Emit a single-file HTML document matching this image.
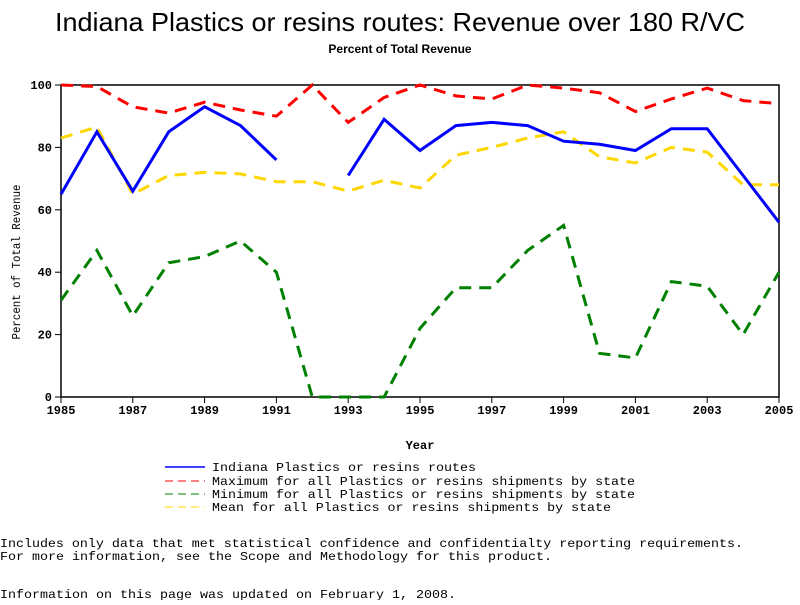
<!DOCTYPE html>
<html><head><meta charset="utf-8"><style>
body{margin:0;background:#fff;width:800px;height:600px;overflow:hidden}
text{font-family:"Liberation Mono",monospace;}
</style></head><body>
<svg id="c" width="800" height="600">
<text x="400" y="31" text-anchor="middle" font-size="26" textLength="690" lengthAdjust="spacingAndGlyphs" style="font-family:'Liberation Sans',sans-serif">Indiana Plastics or resins routes: Revenue over 180 R/VC</text>
<text x="400" y="53" text-anchor="middle" font-size="12" font-weight="bold" style="font-family:'Liberation Sans',sans-serif">Percent of Total Revenue</text>
<text transform="translate(20,262) rotate(-90)" text-anchor="middle" font-size="12" textLength="155" lengthAdjust="spacingAndGlyphs">Percent of Total Revenue</text>
<text x="420" y="449" text-anchor="middle" font-size="12" font-weight="bold">Year</text>
<g font-size="12">
<line x1="165" y1="467" x2="205" y2="467" stroke="#0000ff" stroke-width="1.5"/><text x="212" y="471" textLength="264" lengthAdjust="spacingAndGlyphs">Indiana Plastics or resins routes</text>
<line x1="165" y1="481" x2="205" y2="481" stroke="#ff0000" stroke-dasharray="8,5"/><text x="212" y="485" textLength="423" lengthAdjust="spacingAndGlyphs">Maximum for all Plastics or resins shipments by state</text>
<line x1="165" y1="494" x2="205" y2="494" stroke="#008000" stroke-dasharray="8,5"/><text x="212" y="498" textLength="423" lengthAdjust="spacingAndGlyphs">Minimum for all Plastics or resins shipments by state</text>
<line x1="165" y1="507" x2="205" y2="507" stroke="#ffd700" stroke-dasharray="8,5"/><text x="212" y="511" textLength="399" lengthAdjust="spacingAndGlyphs">Mean for all Plastics or resins shipments by state</text>
</g>
<g font-size="12">
<text x="0" y="547" textLength="743" lengthAdjust="spacingAndGlyphs">Includes only data that met statistical confidence and confidentialty reporting requirements.</text>
<text x="0" y="560" textLength="552" lengthAdjust="spacingAndGlyphs">For more information, see the Scope and Methodology for this product.</text>
<text x="0" y="598" textLength="456" lengthAdjust="spacingAndGlyphs">Information on this page was updated on February 1, 2008.</text>
</g>
</svg>
<script>
const years=[1985,1986,1987,1988,1989,1990,1991,1992,1993,1994,1995,1996,1997,1998,1999,2000,2001,2002,2003,2004,2005];
const indiana=[65,85,66,85,93,87,76,null,71,89,79,87,88,87,82,81,79,86,86,71,56];
const maxVals=[100,99.5,93,91,94.5,92,90,100,88,96,100,96.5,95.5,100,99,97.5,91.5,95.5,99,95,94];
const minVals=[31,47,26,43,45,50,40,0,0,0,22,35,35,47,55,14,12.5,37,35.5,20,40];
const meanVals=[83,86.5,65,71,72,71.5,69,69,66,69.5,67,77.5,80,83,85,77,75,80,78.5,68,68];
const yTicks=[0,20,40,60,80,100];
const xTicks=[1985,1987,1989,1991,1993,1995,1997,1999,2001,2003,2005];
const L=61,R=779,T=85,B=397;
const xs=y=>L+(y-1985)/(2005-1985)*(R-L);
const ys=v=>B-v/100*(B-T);
const svg=document.getElementById('c'),NS='http://www.w3.org/2000/svg';
function mk(t,a){const e=document.createElementNS(NS,t);for(const k in a)e.setAttribute(k,a[k]);svg.appendChild(e);return e;}
const frame=mk('rect',{x:L,y:T,width:R-L,height:B-T,fill:'none',stroke:'#000','stroke-width':1.5});


yTicks.forEach(v=>{
 const l=mk('line',{x1:L-6,x2:L,y1:ys(v),y2:ys(v),stroke:'#000'});
 
 
 const t=mk('text',{x:L-9,y:ys(v)+4,'text-anchor':'end','font-size':12,'font-weight':'bold'});t.textContent=v;
 
 
});
xTicks.forEach(v=>{
 const l=mk('line',{x1:xs(v),x2:xs(v),y1:B,y2:B+6,stroke:'#000'});
 
 
 const t=mk('text',{x:xs(v),y:B+17,'text-anchor':'middle','font-size':12,'font-weight':'bold'});t.textContent=v;
 
 
});
function series(vals,color,dash,w,name){
 let d='',pen=false;
 vals.forEach((v,i)=>{if(v===null){pen=false;return;}d+=(pen?'L':'M')+xs(years[i]).toFixed(1)+','+ys(v).toFixed(1);pen=true;});
 const p=mk('path',{d:d,fill:'none',stroke:color,'stroke-width':w,'stroke-dasharray':dash});
 
 
}
series(meanVals,'#ffd700','12,8',3,'mean-line');
series(minVals,'#008000','12,8',3,'minimum-line');
series(maxVals,'#ff0000','12,8',3,'maximum-line');
series(indiana,'#0000ff','none',3,'indiana-line');
</script>
</body></html>
